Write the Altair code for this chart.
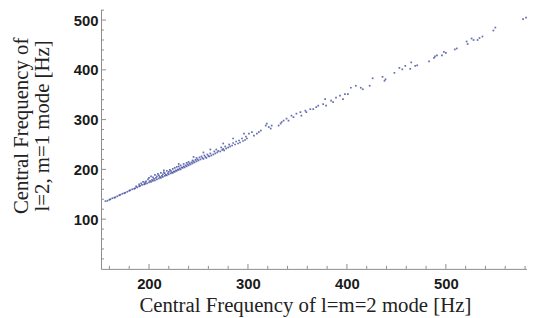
import altair as alt
import pandas as pd

# l=m=2 central frequency [Hz]
x_vals = [
    156, 158, 160, 161, 163, 165, 166, 168, 170, 171, 173, 175, 176, 178, 180, 181, 183, 185, 186, 188,
    190, 191, 193, 195, 187, 190, 192, 194, 196,
    196, 197, 198, 199, 200, 200, 201, 202, 202, 203, 204, 204, 205, 206, 206, 207, 208, 208, 209, 210,
    210, 211, 212, 212, 213, 214, 214, 215, 216, 216, 217, 218, 218, 219, 220, 220, 221, 222, 222, 223,
    224, 224, 225, 226, 226, 227, 228, 228, 229, 230, 230, 231, 232, 232, 233, 234, 235, 235, 236, 237,
    238, 238, 239, 240, 240, 241, 242, 243, 244, 244, 245, 246, 247, 248, 248, 249, 250, 251, 252, 253,
    254, 255, 256, 257, 258, 259, 260, 215, 230, 245, 255, 262,
    261, 262, 263, 265, 266, 267, 268, 269, 270, 272, 273, 274, 275, 276, 277, 278, 280, 281, 282, 284,
    285, 287, 288, 290, 291, 292, 294, 295, 297, 298, 296, 285, 275,
    299, 301, 304, 306, 309, 311, 313, 318, 319, 321, 323, 324, 331, 333, 334, 336, 339, 341, 344, 346,
    349, 353, 354, 358, 359, 363, 366, 369, 371, 376, 378, 379, 384, 386, 389, 393, 396, 398,
    401, 404, 409, 414, 416, 423, 426, 436, 438, 439, 448, 453, 456, 459, 464, 465, 469, 471, 483, 488,
    489, 491, 496, 498, 500, 509, 511, 521, 522, 526, 528, 532, 534, 537, 548, 550, 578, 581,
]
# l=2, m=1 central frequency [Hz]
y_vals = [
    136, 137, 139, 140, 142, 143, 144, 146, 148, 149, 151, 152, 153, 155, 157, 158, 160, 161, 162, 164,
    166, 167, 169, 170, 166, 170, 172, 175, 174,
    171, 176, 172, 180, 174, 183, 177, 175, 186, 179, 177, 184, 181, 178, 189, 183, 180, 186, 191, 182,
    188, 185, 183, 193, 187, 185, 190, 194, 187, 192, 189, 188, 197, 192, 190, 195, 199, 192, 197, 194,
    193, 201, 196, 195, 203, 198, 197, 205, 200, 199, 206, 202, 200, 208, 204, 203, 206, 211, 204, 208,
    206, 213, 210, 208, 215, 212, 210, 214, 212, 218, 216, 214, 219, 216, 223, 220, 218, 224, 220, 226,
    223, 221, 228, 225, 223, 230, 227, 198, 211, 225, 234, 240,
    226, 232, 228, 230, 236, 232, 240, 234, 237, 236, 244, 239, 241, 238, 246, 242, 244, 250, 246, 248,
    253, 250, 256, 252, 258, 254, 262, 257, 259, 266, 272, 262, 252,
    262, 272, 275, 268, 272, 275, 278, 288, 292, 285, 282, 288, 288, 292, 295, 298, 302, 298, 308, 305,
    312, 315, 308, 318, 315, 321, 321, 325, 328, 331, 341, 328, 338, 335, 344, 348, 341, 351,
    351, 364, 368, 364, 361, 368, 383, 386, 378, 381, 394, 404, 401, 408, 402, 415, 408, 409, 417, 424,
    427, 429, 429, 436, 434, 441, 443, 457, 452, 463, 460, 460, 464, 467, 479, 485, 502, 505,
]

x_major = [200, 300, 400, 500]
x_minor = [v for v in range(160, 581, 20) if v % 100 != 0]
y_major = [100, 200, 300, 400, 500]
y_minor = [v for v in range(20, 521, 20) if v % 100 != 0]

W, H = 430.5, 262
AXIS_COLOR = "#8c8c8c"
TICK_COLOR = "#8c8c8c"
df = pd.DataFrame({"x": x_vals, "y": y_vals})

xs = alt.Scale(domain=[151.5, 582], nice=False, zero=False)
ys = alt.Scale(domain=[0, 521], nice=False, zero=False)

x_axis = alt.Axis(
    orient="bottom", values=x_major, ticks=False, labelPadding=8,
    title="Central Frequency of l=m=2 mode [Hz]",
    titleX=206, titleY=43, titleAlign="center", titleBaseline="alphabetic",
)
y_axis = alt.Axis(
    orient="left", values=y_major, ticks=False, labelPadding=3,
    title=["Central Frequency of", "l=2, m=1 mode [Hz]"],
    titleX=-74, titleY=117, titleAngle=-90, titleAlign="center",
    titleBaseline="alphabetic", titleLineHeight=21,
)

# main layer: points, domain lines, labels, titles
main = alt.Chart(df).mark_square(size=3, color="#3f4a9e", opacity=0.8).encode(
    x=alt.X("x:Q", scale=xs, axis=x_axis),
    y=alt.Y("y:Q", scale=ys, axis=y_axis),
)

ticks_x = pd.DataFrame({
    "v": x_major + x_minor,
    "len": [5] * len(x_major) + [3] * len(x_minor),
})
ticks_y = pd.DataFrame({
    "v": y_major + y_minor,
    "len": [5] * len(y_major) + [3] * len(y_minor),
})

# inward-pointing ticks (major and minor), placed through the shared scales
xt = alt.Chart(ticks_x).transform_calculate(
    y0=f"{H}", y1=f"{H} - datum.len"
).mark_rule(color=TICK_COLOR, strokeWidth=1).encode(
    x=alt.X("v:Q", scale=xs, axis=x_axis),
    y=alt.Y("y0:Q", scale=None),
    y2=alt.Y2("y1:Q"),
)

yt = alt.Chart(ticks_y).transform_calculate(
    x0="0", x1="datum.len"
).mark_rule(color=TICK_COLOR, strokeWidth=1).encode(
    y=alt.Y("v:Q", scale=ys, axis=y_axis),
    x=alt.X("x0:Q", scale=None),
    x2=alt.X2("x1:Q"),
)

chart = (
    alt.layer(main, xt, yt)
    .properties(
        width=W,
        height=H,
        autosize=alt.AutoSizeParams(type="none"),
        padding={"left": 94, "top": 0, "right": 0, "bottom": 50},
    )
    .configure_view(stroke=None)
    .configure_axis(
        grid=False,
        domainColor=AXIS_COLOR,
        domainWidth=1,
        labelFont="Liberation Sans",
        labelFontWeight="bold",
        labelFontSize=15,
        labelColor="#1a1a1a",
        titleFont="Liberation Serif",
        titleFontWeight="normal",
        titleFontSize=21,
        titleColor="#222222",
    )
)

chart.save("out.html", embed_options={"renderer": "svg", "actions": False})
